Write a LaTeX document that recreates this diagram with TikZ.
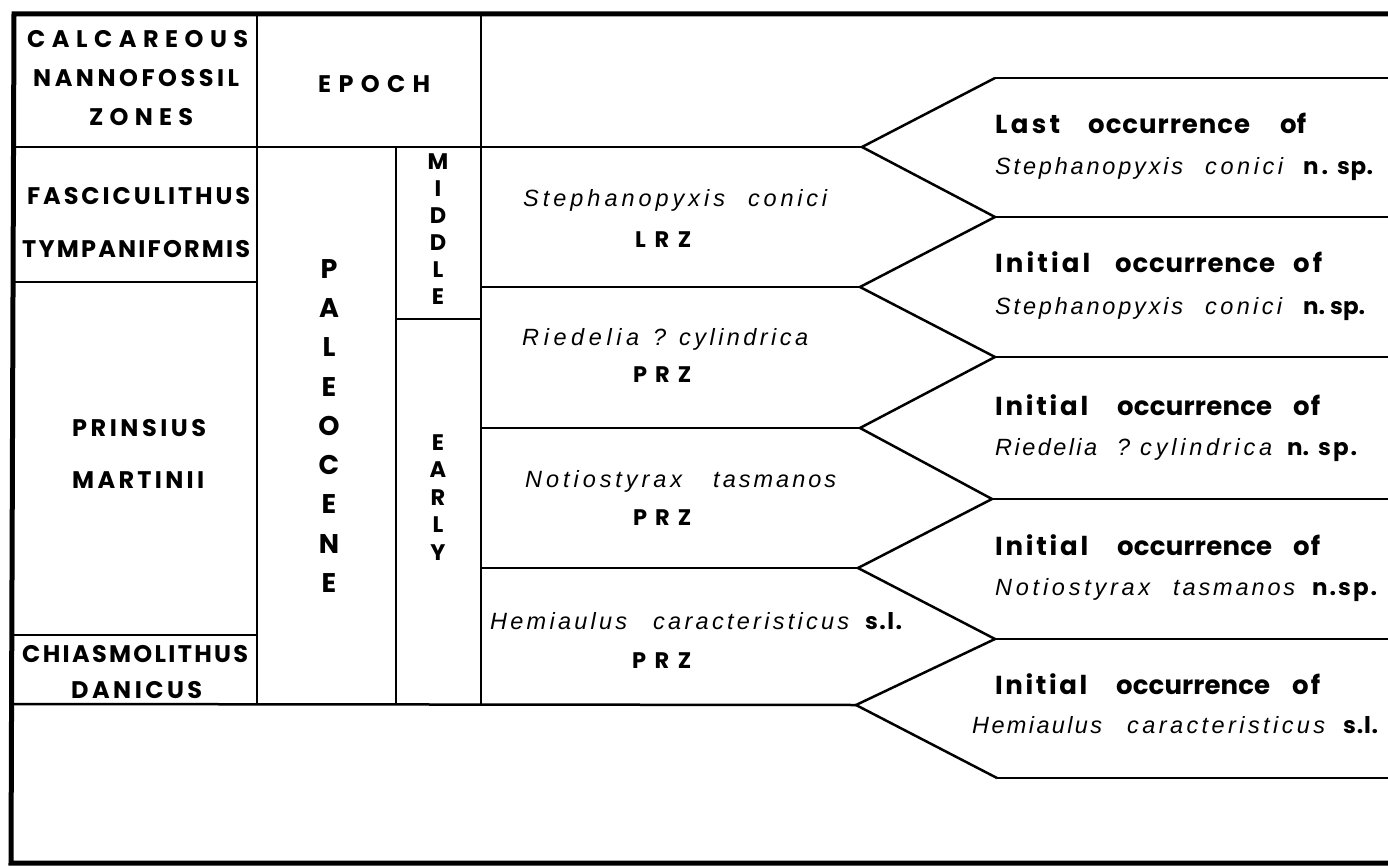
\documentclass[tikz,border=0pt]{standalone}
\usepackage{fontspec}
\setmainfont{Liberation Sans}
\newfontfamily\fut{Poppins}
\newfontfamily\hel{Liberation Sans}
\makeatletter
\def\sp@loop#1{\ifx#1\@nil\else\hfil#1\expandafter\sp@loop\fi}
\def\sp@first#1{#1\sp@loop}
\newcommand\spreadto[2]{\hbox to #1{\sp@first#2\@nil}}
\makeatother
% word node: style, name, left x, right x, baseline y, text
\newcommand\WW[6]{\node[#1, anchor=base west] (#2) at (#3,#5) {\spreadto{\dimexpr#4pt-#3pt\relax}{#6}};}
\begin{document}
\begin{tikzpicture}[x=1pt,y=-1pt,
  hl/.style={font=\fut\bfseries\fontsize{24}{26}\selectfont, inner sep=0pt},
  hr/.style={font=\fut\bfseries\fontsize{26}{28}\selectfont, inner sep=0pt},
  hz/.style={font=\fut\bfseries\fontsize{22.5}{24}\selectfont, inner sep=0pt},
  hb/.style={font=\fut\bfseries\fontsize{23}{24}\selectfont, inner sep=0pt},
  it/.style={font=\hel\itshape\fontsize{23.5}{24}\selectfont, inner sep=0pt},
  vbig/.style={font=\fut\bfseries\fontsize{27}{28}\selectfont, inner sep=0pt},
  vsm/.style={font=\fut\bfseries\fontsize{22.5}{24}\selectfont, inner sep=0pt},
  ln/.style={line width=2.5pt, line join=miter},
  frame/.style={line width=5pt}]
\useasboundingbox (0,0) rectangle (1388,866);

% outer frame
\draw[frame] (1388,14) -- (14,14) -- (11,863) -- (1388,863);

% table grid
\draw[ln] (14,147) -- (862,147);
\draw[ln] (14,282) -- (257,282);
\draw[ln] (14,635) -- (257,635);
\draw[ln] (13,704) -- (856,705);
\draw[ln] (257,14) -- (257,704);
\draw[ln] (396,147) -- (396,704);
\draw[ln] (396,319) -- (481,319);
\draw[ln] (481,14) -- (481,705);
\draw[ln] (481,287) -- (860,287);
\draw[ln] (481,428) -- (860,428);
\draw[ln] (481,568) -- (858,568);

% zigzag arrows
\coordinate (r0) at (995,78);
\coordinate (r1) at (995,217);
\coordinate (r2) at (995,357);
\coordinate (r3) at (992,499);
\coordinate (r4) at (995,639);
\coordinate (r5) at (997,778);
\draw[ln] (r0) -- (862,147) -- (r1) -- (860,287) -- (r2) -- (860,428) -- (r3) -- (858,568) -- (r4) -- (856,705) -- (r5);
\foreach \c in {r0,r1,r2,r3,r4,r5} \draw[ln] (\c) -- (\c -| 1390,0);

% header and nannofossil zones
\WW{hl}{h1}{27}{248}{48}{CALCAREOUS}
\WW{hl}{h2}{33}{239}{87}{NANNOFOSSIL}
\WW{hl}{h3}{89}{193}{126}{ZONES}
\WW{hl}{ep}{318}{430}{93}{EPOCH}
\WW{hl}{z1a}{27}{250}{205}{FASCICULITHUS}
\WW{hl}{z1b}{22}{250}{258}{TYMPANIFORMIS}
\WW{hl}{z2a}{72}{206}{436}{PRINSIUS}
\WW{hl}{z2b}{72}{204}{488}{MARTINII}
\WW{hl}{z3a}{22}{248}{662}{CHIASMOLITHUS}
\WW{hl}{z3b}{71}{202}{698}{DANICUS}

% epoch letters
\foreach \l [count=\i from 0] in {P,A,L,E,O,C,E,N,E}
  \node[vbig] (pal\i) at (329,269+39.25*\i) {\l};
\foreach \l [count=\i from 0] in {M,I,D,D,L,E}
  \node[vsm] (mid\i) at (438,162+27*\i) {\l};
\foreach \l [count=\i from 0] in {E,A,R,L,Y}
  \node[vsm] (ear\i) at (438,442.5+27.5*\i) {\l};

% diatom zones
\WW{it}{s1a}{523}{725}{207}{Stephanopyxis}
\WW{it}{s1b}{748}{827}{207}{conici}
\WW{hz}{s1z}{635}{691}{248}{LRZ}
\WW{it}{s2a}{522}{639}{345}{Riedelia}
\WW{it}{s2b}{653}{663}{345}{?}
\WW{it}{s2c}{679}{808}{345}{cylindrica}
\WW{hz}{s2z}{633}{691}{382}{PRZ}
\WW{it}{s3a}{525}{682}{487}{Notiostyrax}
\WW{it}{s3b}{713}{836}{487}{tasmanos}
\WW{hz}{s3z}{633}{691}{525}{PRZ}
\WW{it}{s4a}{490}{627}{629}{Hemiaulus}
\WW{it}{s4b}{653}{849}{629}{caracteristicus}
\WW{hb}{s4c}{865}{902}{629}{s.l.}
\WW{hz}{s4z}{632}{691}{668}{PRZ}

% events
\WW{hr}{e1a}{995}{1060}{134}{Last}
\WW{hr}{e1b}{1088}{1250}{134}{occurrence}
\WW{hr}{e1c}{1280}{1303}{134}{of}
\WW{it}{e1d}{995}{1183}{175}{Stephanopyxis}
\WW{it}{e1e}{1205}{1283}{175}{conici}
\WW{hb}{e1f}{1303}{1328}{175}{n.}
\WW{hb}{e1g}{1337}{1373}{175}{sp.}

\WW{hr}{e2a}{995}{1090}{273}{Initial}
\WW{hr}{e2b}{1115}{1275}{273}{occurrence}
\WW{hr}{e2c}{1293}{1322}{273}{of}
\WW{it}{e2d}{995}{1183}{315}{Stephanopyxis}
\WW{it}{e2e}{1205}{1282}{315}{conici}
\WW{hb}{e2f}{1303}{1323}{315}{n.}
\WW{hb}{e2g}{1330}{1362}{315}{sp.}

\WW{hr}{e3a}{995}{1088}{415}{Initial}
\WW{hr}{e3b}{1117}{1272}{415}{occurrence}
\WW{hr}{e3c}{1293}{1320}{415}{of}
\WW{it}{e3d}{995}{1097}{455}{Riedelia}
\WW{it}{e3e}{1117}{1126}{455}{?}
\WW{it}{e3f}{1140}{1272}{455}{cylindrica}
\WW{hb}{e3g}{1287}{1305}{455}{n.}
\WW{hb}{e3h}{1318}{1357}{455}{sp.}

\WW{hr}{e4a}{995}{1088}{555}{Initial}
\WW{hr}{e4b}{1117}{1272}{555}{occurrence}
\WW{hr}{e4c}{1293}{1320}{555}{of}
\WW{it}{e4d}{995}{1150}{595}{Notiostyrax}
\WW{it}{e4e}{1173}{1295}{595}{tasmanos}
\WW{hb}{e4f}{1312}{1377}{595}{n.sp.}

\WW{hr}{e5a}{995}{1087}{694}{Initial}
\WW{hr}{e5b}{1116}{1270}{694}{occurrence}
\WW{hr}{e5c}{1292}{1320}{694}{of}
\WW{it}{e5d}{972}{1102}{733}{Hemiaulus}
\WW{it}{e5e}{1127}{1325}{733}{caracteristicus}
\WW{hb}{e5f}{1343}{1378}{733}{s.l.}
\end{tikzpicture}
\end{document}
